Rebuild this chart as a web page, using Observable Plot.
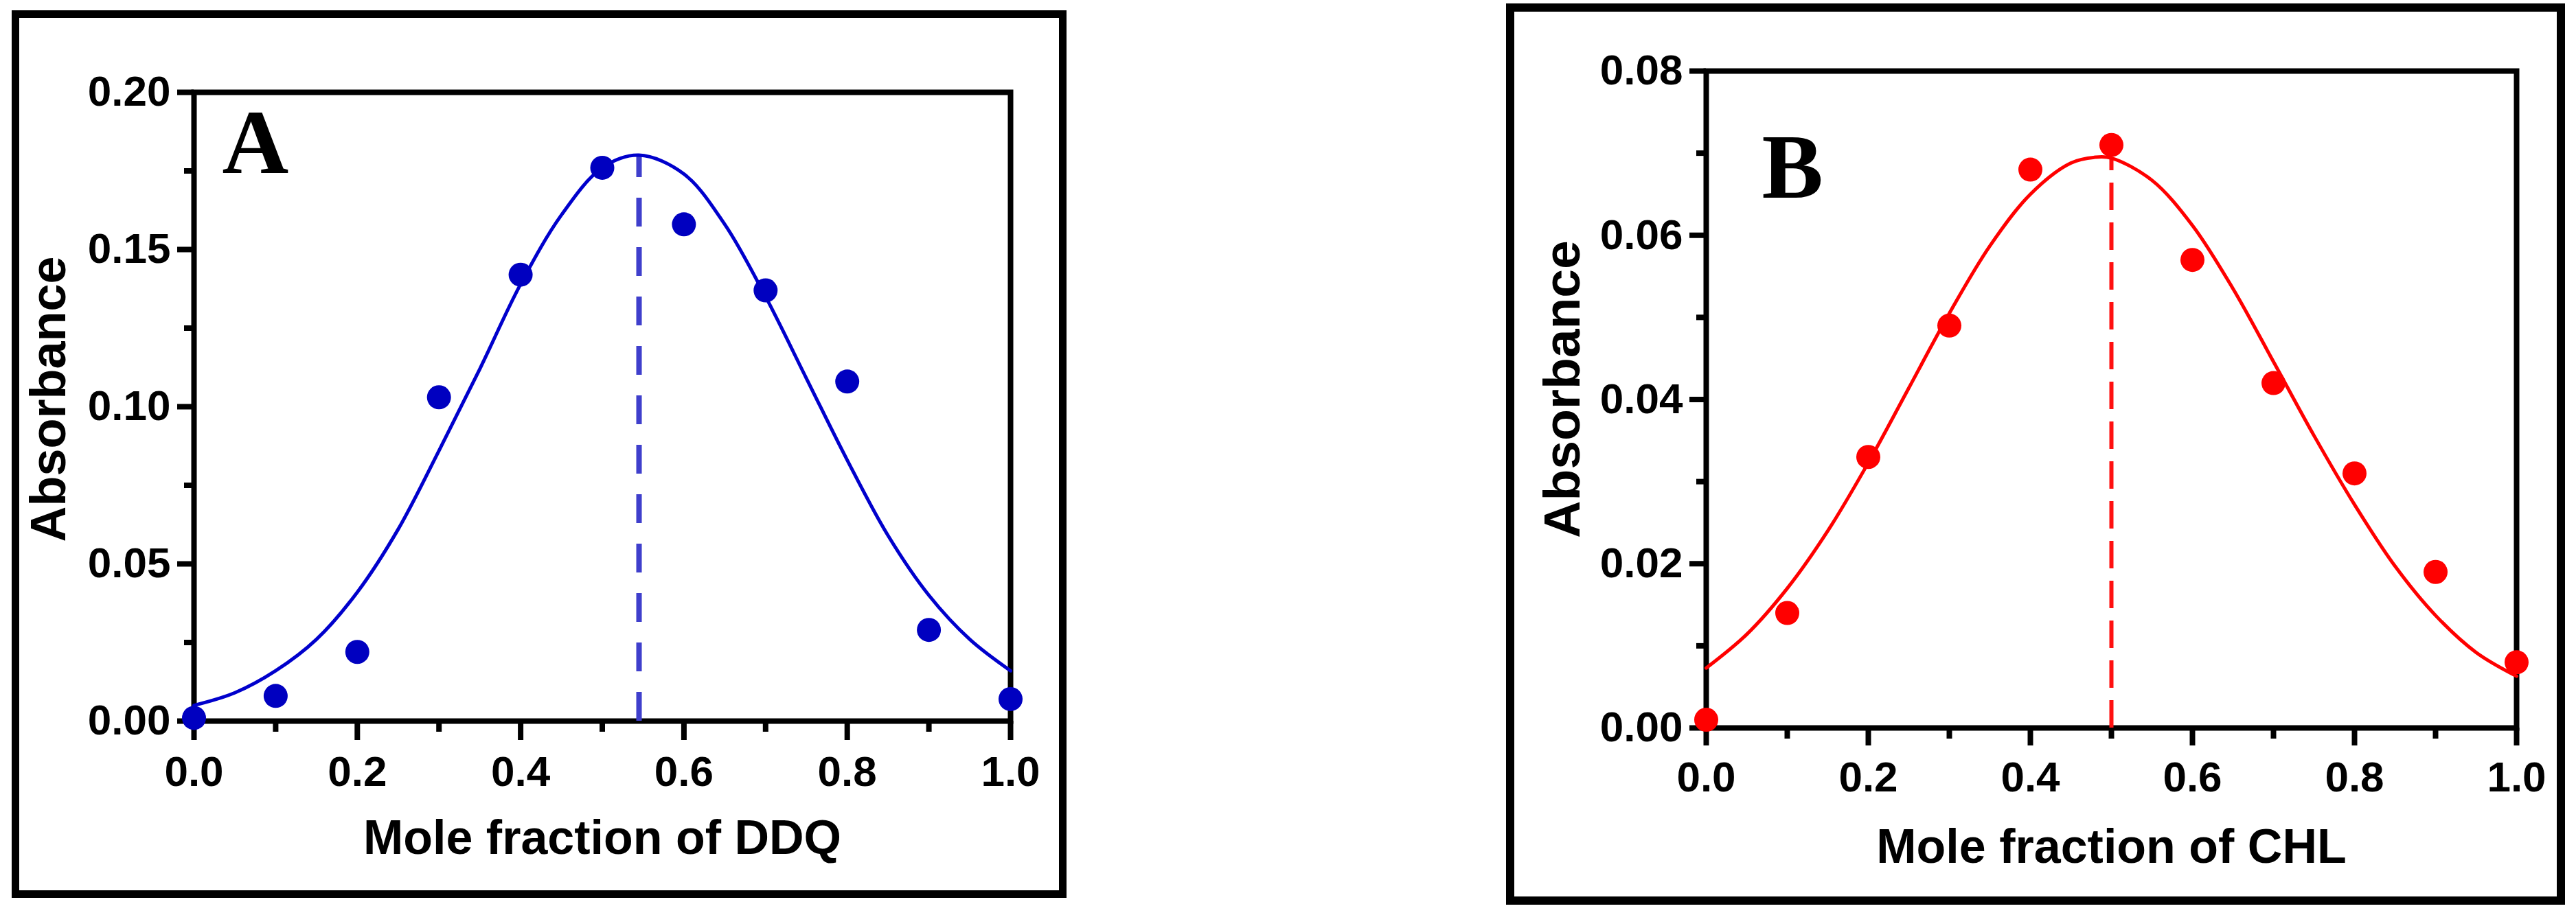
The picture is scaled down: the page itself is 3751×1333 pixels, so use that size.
<!DOCTYPE html>
<html>
<head>
<meta charset="utf-8">
<script src="https://cdn.jsdelivr.net/npm/d3@7"></script>
<script src="https://cdn.jsdelivr.net/npm/@observablehq/plot@0.6"></script>
<style>
html, body { margin: 0; padding: 0; background: #fff; }
#page { position: relative; width: 3751px; height: 1333px; overflow: hidden; background: #fff; }
.box { position: absolute; border: 11px solid #000; box-sizing: border-box; }
.panel { position: absolute; top: 0; }
.panel svg { max-width: none !important; }
</style>
</head>
<body>
<div id="page">
  <div class="box" style="left:17px; top:15px; width:1536px; height:1293px;"></div>
  <div class="box" style="left:2193px; top:5px; width:1542px; height:1313px; border-width:12px;"></div>
  <div class="panel" id="pA" style="left:0px;"></div>
  <div class="panel" id="pB" style="left:1875px;"></div>
</div>
<script>
// ---- data ----
const moleFraction = [0.0, 0.1, 0.2, 0.3, 0.4, 0.5, 0.6, 0.7, 0.8, 0.9, 1.0];
const absorbanceDDQ = [0.001, 0.008, 0.022, 0.103, 0.142, 0.176, 0.158, 0.137, 0.108, 0.029, 0.007];
const absorbanceCHL = [0.001, 0.014, 0.033, 0.049, 0.068, 0.071, 0.057, 0.042, 0.031, 0.019, 0.008];

// fitted curves
const fitXA = [0, 0.05, 0.10, 0.15, 0.20, 0.25, 0.30, 0.35, 0.40, 0.45, 0.50, 0.545, 0.60, 0.65, 0.70, 0.75, 0.80, 0.85, 0.90, 0.95, 1.0];
const fitYA = [0.005, 0.009, 0.016, 0.026, 0.041, 0.061, 0.086, 0.112, 0.139, 0.161, 0.176, 0.180, 0.174, 0.158, 0.135, 0.109, 0.083, 0.059, 0.040, 0.026, 0.016];
const fitXB = [0, 0.05, 0.10, 0.15, 0.20, 0.25, 0.30, 0.35, 0.40, 0.45, 0.48, 0.50, 0.55, 0.60, 0.65, 0.70, 0.75, 0.80, 0.85, 0.90, 0.95, 1.0];
const fitYB = [0.0073, 0.0114, 0.0170, 0.0240, 0.0323, 0.0414, 0.0505, 0.0587, 0.0650, 0.0688, 0.0695, 0.0694, 0.0667, 0.0612, 0.0535, 0.0446, 0.0356, 0.0272, 0.0197, 0.0137, 0.0092, 0.0063];

// vertical dashed markers (x of maximum, height of curve there)
const peakA = [{x: 0.545, y: 0.180}];
const peakB = [{x: 0.50, y: 0.0694}];

// ticks
const xTicks = [0, 0.2, 0.4, 0.6, 0.8, 1.0];
const xMinor = [0.1, 0.3, 0.5, 0.7, 0.9];
const yTicksA = [0, 0.05, 0.10, 0.15, 0.20];
const yMinorA = [0.025, 0.075, 0.125, 0.175];
const yTicksB = [0, 0.02, 0.04, 0.06, 0.08];
const yMinorB = [0.01, 0.03, 0.05, 0.07];

const labels = {
  A: {panel: "A", xLabel: "Mole fraction of DDQ", yLabel: "Absorbance"},
  B: {panel: "B", xLabel: "Mole fraction of CHL", yLabel: "Absorbance"}
};

const sans = "'Liberation Sans', Arial, Helvetica, sans-serif";
const serif = "'Liberation Serif', 'Times New Roman', serif";

function pts(xs, ys) { return xs.map((x, i) => ({x, y: ys[i]})); }

function panel(cfg) {
  return Plot.plot({
    width: cfg.width,
    height: 1333,
    marginLeft: cfg.left,
    marginRight: cfg.width - cfg.right,
    marginTop: cfg.top,
    marginBottom: 1333 - cfg.bottom,
    style: {background: "transparent", overflow: "visible", fontFamily: sans},
    x: {domain: [0, 1]},
    y: {domain: cfg.yDomain},
    marks: [
      Plot.axisY({ticks: cfg.yTicks, tickFormat: d3.format(".2f"), tickSize: 24, tickPadding: 10,
        strokeWidth: 8, fontSize: 62, fontWeight: "bold", label: null}),
      Plot.axisY({ticks: cfg.yMinor, tickFormat: () => "", tickSize: 14, strokeWidth: 8, label: null}),
      Plot.axisX({ticks: xTicks, tickFormat: d3.format(".1f"), tickSize: cfg.xTick, tickPadding: 22,
        strokeWidth: 8, fontSize: 62, fontWeight: "bold", label: null}),
      Plot.axisX({ticks: xMinor, tickFormat: () => "", tickSize: 16, strokeWidth: 8, label: null}),
      Plot.frame({stroke: "#000", strokeWidth: 8}),
      Plot.ruleX(cfg.peak, {x: "x", y1: 0, y2: "y", stroke: cfg.dashColor, strokeWidth: cfg.dashWidth,
        strokeDasharray: cfg.dash}),
      Plot.line(pts(cfg.fitX, cfg.fitY), {x: "x", y: "y", stroke: cfg.lineColor, strokeWidth: 5, curve: "catmull-rom"}),
      Plot.dot(pts(moleFraction, cfg.values), {x: "x", y: "y", r: 17.5, fill: cfg.dotColor, stroke: "none"}),
      Plot.text([cfg.labels.panel], {frameAnchor: "top-left", dx: cfg.letterDx, dy: cfg.letterDy, textAnchor: "start",
        lineAnchor: "top", fontFamily: serif, fontWeight: "bold", fontSize: 134, fill: "#000"}),
      Plot.text([cfg.labels.xLabel], {frameAnchor: "bottom", dy: cfg.xLabelDy, textAnchor: "middle", lineAnchor: "middle",
        fontSize: 70, fontWeight: "bold", fill: "#000"}),
      Plot.text([cfg.labels.yLabel], {frameAnchor: "left", rotate: -90, dx: cfg.yLabelDx, dy: cfg.yLabelDy,
        textAnchor: "middle", lineAnchor: "middle", fontSize: cfg.yLabelSize, fontWeight: "bold", fill: "#000"})
    ]
  });
}

document.getElementById("pA").appendChild(panel({
  width: 1875, left: 282, right: 1471, top: 134, bottom: 1050,
  yDomain: [0, 0.2], yTicks: yTicksA, yMinor: yMinorA, xTick: 28,
  peak: peakA, dashColor: "#3f3fcc", dashWidth: 8, dash: "42,30",
  fitX: fitXA, fitY: fitYA, lineColor: "#0000cc", values: absorbanceDDQ, dotColor: "#0000c0",
  labels: labels.A, letterDx: 41, letterDy: 22, xLabelDy: 171, yLabelDx: -211, yLabelDy: -11, yLabelSize: 72
}));

document.getElementById("pB").appendChild(panel({
  width: 1876, left: 2484 - 1875, right: 3664 - 1875, top: 103, bottom: 1060,
  yDomain: [0, 0.08], yTicks: yTicksB, yMinor: yMinorB, xTick: 26,
  peak: peakB, dashColor: "#ff1010", dashWidth: 6, dash: "40,18",
  fitX: fitXB, fitY: fitYB, lineColor: "#ff0000", values: absorbanceCHL, dotColor: "#ff0000",
  labels: labels.B, letterDx: 81, letterDy: 89, xLabelDy: 174, yLabelDx: -209, yLabelDy: -15, yLabelSize: 75
}));
</script>
</body>
</html>
